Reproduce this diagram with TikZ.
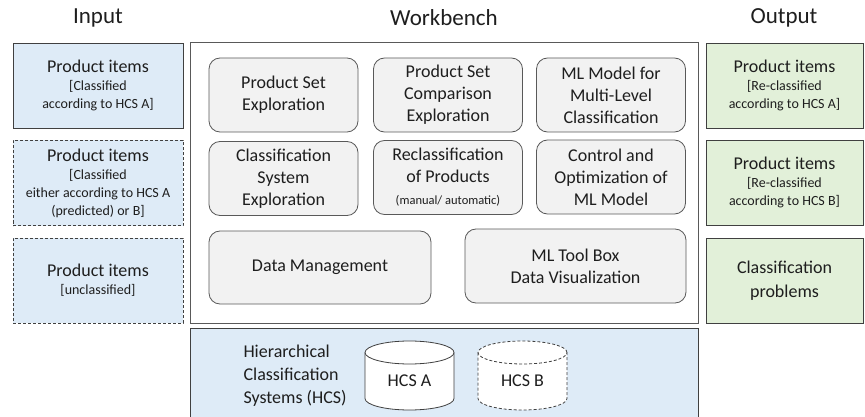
\documentclass[tikz,border=0pt]{standalone}
\usepackage{fontspec}
\setmainfont{Carlito}
\definecolor{inblue}{HTML}{DEEBF7}
\definecolor{outgreen}{HTML}{E2F0D9}
\definecolor{boxgray}{HTML}{F2F2F2}
\definecolor{edgegray}{HTML}{595959}
\definecolor{darkedge}{HTML}{404040}
\definecolor{txt}{HTML}{1E1E1E}
\newcommand\pitems{{\fontsize{18}{18}\selectfont Product items}}
\begin{document}
\begin{tikzpicture}[x=1pt,y=-1pt,text=txt,
  titletxt/.style={font=\fontsize{23}{26}\selectfont},
  inbox/.style={draw=darkedge, fill=inblue, line width=0.8pt, minimum width=170pt, minimum height=85pt, inner sep=0pt, align=center, font=\fontsize{14}{18}\selectfont},
  outbox/.style={draw=darkedge, fill=outgreen, line width=0.8pt, minimum width=157pt, minimum height=85pt, inner sep=0pt, align=center, font=\fontsize{14}{18}\selectfont},
  dashedge/.style={dash pattern=on 3pt off 2pt},
  toolbox/.style={draw=edgegray, fill=boxgray, rounded corners=11pt, line width=0.8pt, minimum width=149pt, minimum height=74pt, inner sep=0pt, align=center, font=\fontsize{18}{22}\selectfont},
  cyl/.style={draw=darkedge, fill=white, line width=0.8pt},
  bigtxt/.style={font=\fontsize{18}{22}\selectfont}]
\useasboundingbox (0,0) rectangle (865,417);
\fill[white] (0,0) rectangle (865,417);

% titles
\node[titletxt] (tin) at (98,18) {Input};
\node[titletxt] (twb) at (444,18) {Workbench};
\node[titletxt] (tout) at (784,18) {Output};

% input
\node[inbox] (in1) at (98,85.5) {\pitems\\{[}Classified\\according to HCS A]};
\node[inbox, dashedge] (in2) at (98,183) {\pitems\\{[}Classified\\either according to HCS A\\(predicted) or B]};
\node[inbox, dashedge] (in3) at (98,280.5) {\pitems\\{[}unclassified]};

% output
\node[outbox] (out1) at (784.5,85.5) {\pitems\\{[}Re-classified\\according to HCS A]};
\node[outbox] (out2) at (784.5,182.5) {\pitems\\{[}Re-classified\\according to HCS B]};
\node[outbox, font=\fontsize{18}{24}\selectfont] (out3) at (784.5,280.5) {Classification\\problems};

% workbench
\node[draw=edgegray, line width=0.8pt, minimum width=508pt, minimum height=281pt, inner sep=0pt] (wb) at (444,182.5) {};
\node[toolbox] (pse) at (283.5,95) {Product Set\\Exploration};
\node[toolbox] (psce) at (448,95) {Product Set\\Comparison\\Exploration};
\node[toolbox] (mlm) at (611,95) {ML Model for\\Multi-Level\\Classification};
\node[toolbox] (cse) at (283.5,178.5) {Classification\\System\\Exploration};
\node[toolbox] (rop) at (448,177.5) {Reclassification\\of Products\\{\fontsize{12.5}{14}\selectfont (manual/ automatic)}};
\node[toolbox] (coml) at (611,177) {Control and\\Optimization of\\ML Model};
\node[toolbox, minimum width=222pt, minimum height=73pt] (dm) at (320,267.5) {Data Management};
\node[toolbox, minimum width=221pt, minimum height=74pt] (mlt) at (575.5,266) {ML Tool Box\\Data Visualization};

% HCS bar
\node[draw=darkedge, fill=inblue, line width=0.8pt, minimum width=508pt, minimum height=100pt, inner sep=0pt] (hcs) at (444,378) {};
\node[anchor=west, align=left, font=\fontsize{18}{23}\selectfont] (hcslbl) at (240,376) {Hierarchical\\Classification\\Systems (HCS)};

% cylinder A
\draw[cyl] (365,352.5) -- (365,398.5) arc[start angle=180, end angle=360, x radius=44.5pt, y radius=11.5pt] -- (454,352.5);
\draw[cyl] (409.5,352.5) ellipse[x radius=44.5pt, y radius=11.5pt];
\node[bigtxt] (hcsa) at (409.5,381) {HCS A};
% cylinder B
\draw[cyl, dashedge] (478,352.5) -- (478,398.5) arc[start angle=180, end angle=360, x radius=44.5pt, y radius=11.5pt] -- (567,352.5);
\draw[cyl, dashedge] (522.5,352.5) ellipse[x radius=44.5pt, y radius=11.5pt];
\node[bigtxt] (hcsb) at (522.5,381) {HCS B};
\end{tikzpicture}
\end{document}
